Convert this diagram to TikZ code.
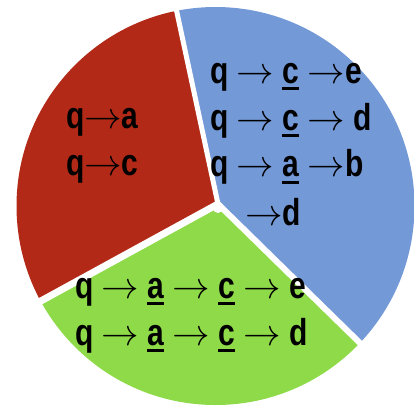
\documentclass[tikz,border=0pt]{standalone}
\usepackage{fix-cm}
\usepackage{fontspec}
\newfontfamily\labfont{Liberation Sans}[FakeStretch=0.8]
\definecolor{pred}{RGB}{178,42,23}
\definecolor{pblue}{RGB}{116,153,215}
\definecolor{pgreen}{RGB}{143,218,73}
\newsavebox\ulbox
\newcommand\ulc[1]{\sbox\ulbox{#1}\rlap{\rule[-7pt]{\wd\ulbox}{3pt}}\usebox\ulbox}
\newcommand\ra{\ensuremath{\rightarrow}}
\tikzset{
  lbl/.style={anchor=base west, inner sep=0pt, outer sep=0pt,
    font=\labfont\bfseries\fontsize{37.5}{47}\selectfont},
  sepline/.style={white, line width=#1}
}
\begin{document}
\begin{tikzpicture}[x=1pt,y=-1pt]
\useasboundingbox (0,0) rectangle (414,407);
\clip (0,0) rectangle (414,407);
\coordinate (O) at (218,204);
\coordinate (C) at (215.5,206);
\begin{scope}
  \clip (C) circle[radius=199];
  \fill[pred] (O) -- ++(151.3:400) arc[start angle=151.3,end angle=257.9,radius=400] -- cycle;
  \fill[pblue] (O) -- ++(257.9:400) arc[start angle=257.9,end angle=404.4,radius=400] -- cycle;
  \fill[pgreen] (O) -- ++(44.4:400) arc[start angle=44.4,end angle=151.3,radius=400] -- cycle;
\end{scope}
\draw[sepline=5] (O) -- ++(257.9:260);
\draw[sepline=7] (O) -- ++(151.3:260);
\draw[sepline=6] (O) -- ++(44.4:260);
\fill[white] (218,208) circle[radius=5];

\node[lbl] (r1) at (66,128) {q\ra{}a};
\node[lbl] (r2) at (66,175) {q\ra{}c};

\node[lbl] (b1) at (210,83) {q \ra{} \ulc{c} \ra{}e};
\node[lbl] (b2) at (210,130) {q \ra{} \ulc{c} \ra{} d};
\node[lbl] (b3) at (210,176.5) {q \ra{} \ulc{a} \ra{}b};
\node[lbl] (b4) at (245,225) {\ra{}d};

\node[lbl] (g1) at (75,298) {q \ra{} \ulc{a} \ra{} \ulc{c} \ra{} e};
\node[lbl] (g2) at (75,345) {q \ra{} \ulc{a} \ra{} \ulc{c} \ra{} d};
\end{tikzpicture}
\end{document}
